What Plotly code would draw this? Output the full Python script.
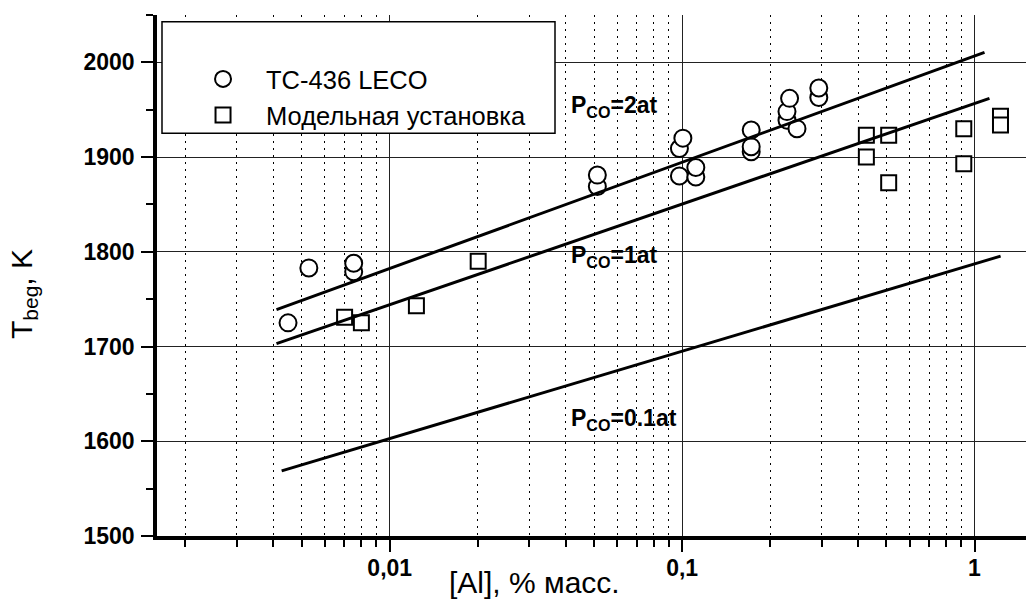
import math
import plotly.graph_objects as go

FONT = "Liberation Sans, Arial, sans-serif"

# ---- data ----
leco_al = [0.00449, 0.00529, 0.00753, 0.00753, 0.0513, 0.0513, 0.0979, 0.1006,
           0.0979, 0.1114, 0.1114, 0.1723, 0.1723, 0.1723, 0.2284, 0.2284,
           0.2331, 0.2471, 0.2934, 0.2934]
leco_t = [1725, 1783, 1779, 1788, 1869, 1881, 1909, 1920,
          1880, 1879, 1889, 1905.6, 1911, 1928.5, 1939, 1948,
          1962, 1930, 1963, 1973]

model_al = [0.00701, 0.0080, 0.01234, 0.02007, 0.4267, 0.4267, 0.5087, 0.5087,
            0.919, 0.919, 1.227, 1.227]
model_t = [1731, 1725, 1743, 1790, 1923, 1900, 1923, 1873,
           1930, 1893, 1943, 1934]

line_2at_al = [0.0041, 1.082]
line_2at_t = [1739, 2010.5]
line_1at_al = [0.0041, 1.125]
line_1at_t = [1703, 1962]
line_01at_al = [0.00427, 1.228]
line_01at_t = [1568.7, 1795.5]

line_labels = ["P<sub>CO</sub>=2at", "P<sub>CO</sub>=1at", "P<sub>CO</sub>=0.1at"]
label_al = [0.041, 0.041, 0.041]
label_t = [1953, 1795, 1623]

x_tickvals = [0.01, 0.1, 1]
x_ticktext = ["0,01", "0,1", "1"]
x_minor = [m * d for d in (0.001, 0.01, 0.1) for m in range(2, 10)]
y_tickvals = [1500, 1600, 1700, 1800, 1900, 2000]
x_range = [0.0016, 1.5]
y_range = [1500, 2050]

series_names = ["TC-436 LECO", "Модельная установка"]
x_title = "[Al], % масс."
y_title = "T<sub>beg</sub>, K"

fig = go.Figure()

fig.add_trace(go.Scatter(
    x=leco_al, y=leco_t, mode="markers", name=series_names[0],
    marker=dict(symbol="circle", size=17, color="white",
                line=dict(color="black", width=2))))
fig.add_trace(go.Scatter(
    x=model_al, y=model_t, mode="markers", name=series_names[1],
    marker=dict(symbol="square", size=15, color="white",
                line=dict(color="black", width=2))))

for lx, ly in ((line_2at_al, line_2at_t), (line_1at_al, line_1at_t),
               (line_01at_al, line_01at_t)):
    fig.add_trace(go.Scatter(x=lx, y=ly, mode="lines", showlegend=False,
                             line=dict(color="black", width=3)))

tickfont = dict(family=FONT, size=23, color="black", weight="bold")

annotations = []
for txt, ax_, ay_ in zip(line_labels, label_al, label_t):
    annotations.append(dict(
        x=math.log10(ax_), y=ay_, xref="x", yref="y", text=txt,
        showarrow=False, xanchor="left", yanchor="middle",
        font=dict(family=FONT, size=23, color="black", weight="bold")))

annotations.append(dict(
    x=0.4344, y=-0.0902, xref="paper", yref="paper", text=x_title,
    showarrow=False, xanchor="center", yanchor="middle",
    font=dict(family=FONT, size=30, color="black")))
annotations.append(dict(
    x=-0.153, y=0.4645, xref="paper", yref="paper", text=y_title,
    showarrow=False, xanchor="center", yanchor="middle", textangle=-90,
    font=dict(family=FONT, size=30, color="black")))

fig.update_layout(
    width=1026, height=601,
    margin=dict(l=157, r=0, t=15, b=65),
    paper_bgcolor="white", plot_bgcolor="white",
    font=dict(family=FONT, color="black"),
    xaxis=dict(
        type="log", range=[math.log10(x_range[0]), math.log10(x_range[1])],
        tickmode="array", tickvals=x_tickvals, ticktext=x_ticktext,
        ticks="outside", ticklen=12, tickwidth=2, tickcolor="black",
        ticklabelstandoff=-3,
        showline=True, linewidth=3.5, linecolor="black",
        showgrid=True, gridcolor="#222", gridwidth=1, zeroline=False,
        tickfont=tickfont,
        minor=dict(tickmode="array", tickvals=x_minor, ticks="outside",
                   ticklen=7, tickwidth=2, tickcolor="black",
                   showgrid=True, gridcolor="black", gridwidth=1,
                   griddash="2px,5px")),
    xaxis2=dict(
        type="log", range=[math.log10(x_range[0]), math.log10(x_range[1])],
        overlaying="x", side="top",
        tickmode="array", tickvals=x_tickvals, showticklabels=False,
        ticks="inside", ticklen=10, tickwidth=2, tickcolor="black",
        showline=True, linewidth=3.5, linecolor="black", showgrid=False,
        zeroline=False,
        minor=dict(tickmode="array", tickvals=x_minor, ticks="inside",
                   ticklen=5, tickwidth=2, tickcolor="black", showgrid=False)),
    yaxis=dict(
        range=y_range, tickmode="array", tickvals=y_tickvals,
        ticks="outside", ticklen=12, tickwidth=2, tickcolor="black",
        ticklabelstandoff=2,
        showline=True, linewidth=3.5, linecolor="black",
        showgrid=True, gridcolor="#222", gridwidth=1, zeroline=False,
        tickfont=tickfont,
        minor=dict(tickmode="linear", tick0=1500, dtick=50, ticks="outside",
                   ticklen=7, tickwidth=2, tickcolor="black", showgrid=False)),
    yaxis2=dict(
        range=y_range, overlaying="y", side="right",
        tickmode="array", tickvals=y_tickvals, showticklabels=False,
        ticks="inside", ticklen=5, tickwidth=2, tickcolor="black",
        showline=False, showgrid=False, zeroline=False),
    legend=dict(x=0.0265, y=0.9216, xanchor="left", yanchor="top",
                bgcolor="rgba(0,0,0,0)", borderwidth=0, itemwidth=76,
                font=dict(family=FONT, size=25.5, color="black")),
    shapes=[dict(type="rect", xref="paper", yref="paper",
                 x0=0.00575, x1=0.458, y0=0.7729, y1=0.9871,
                 line=dict(color="black", width=1.5), fillcolor="white",
                 layer="above")],
    annotations=annotations,
    showlegend=True,
)

fig.write_html("out.html",
               config={"displayModeBar": False},
               post_script="document.body.style.margin='0';"
                           "document.body.style.overflow='hidden';")
